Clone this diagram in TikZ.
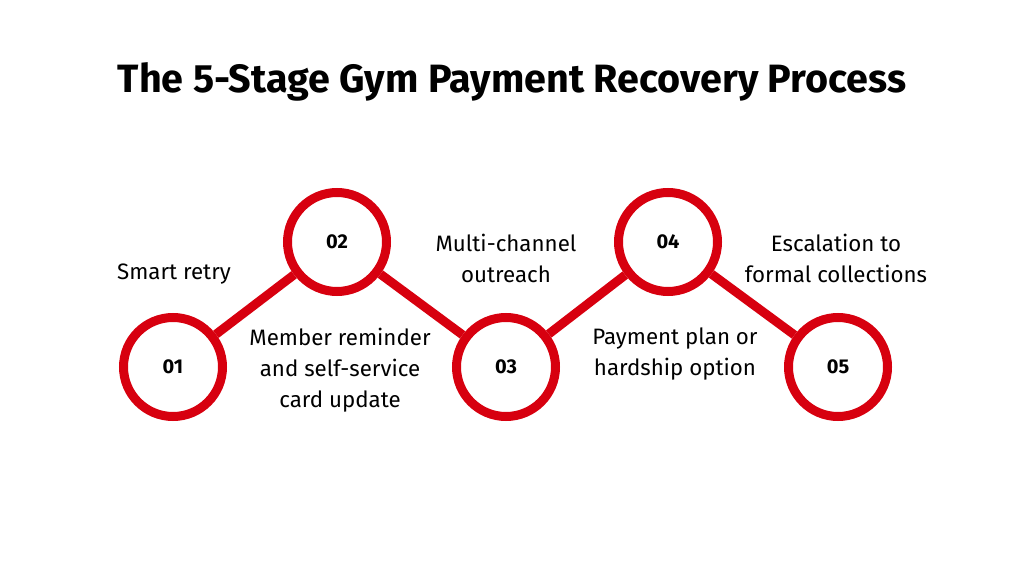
\documentclass[tikz,border=0pt]{standalone}
\usepackage{fontspec}
\setmainfont{Fira Sans}
\definecolor{rd}{HTML}{D7000F}
\begin{document}
\begin{tikzpicture}[x=1pt,y=-1pt,
  st/.style={circle,draw=rd,line width=9pt,fill=white,minimum size=99pt,inner sep=0pt,font=\fontsize{20}{22}\selectfont\bfseries},
  lk/.style={draw=rd,line width=9pt},
  lb/.style={align=center,font=\fontsize{22.3}{31}\selectfont}]
\useasboundingbox (0,0) rectangle (1012,569);
\node[font=\fontsize{39.5}{44}\selectfont\bfseries] (title) at (512,82) {The 5-Stage Gym Payment Recovery Process};
\node[st] (s1) at (173,367) {01};
\node[st] (s2) at (337,242) {02};
\node[st] (s3) at (506,367) {03};
\node[st] (s4) at (668,242) {04};
\node[st] (s5) at (838,367) {05};
\draw[lk] (s1) -- (s2);
\draw[lk] (s2) -- (s3);
\draw[lk] (s3) -- (s4);
\draw[lk] (s4) -- (s5);
\node[lb] (l1) at (174,274) {Smart retry};
\node[lb] (l2) at (340,370) {Member reminder\\and self-service\\card update};
\node[lb] (l3) at (506,258) {Multi-channel\\outreach};
\node[lb] (l4) at (675,354) {Payment plan or\\hardship option};
\node[lb] (l5) at (836,258) {Escalation to\\formal collections};
\end{tikzpicture}
\end{document}
